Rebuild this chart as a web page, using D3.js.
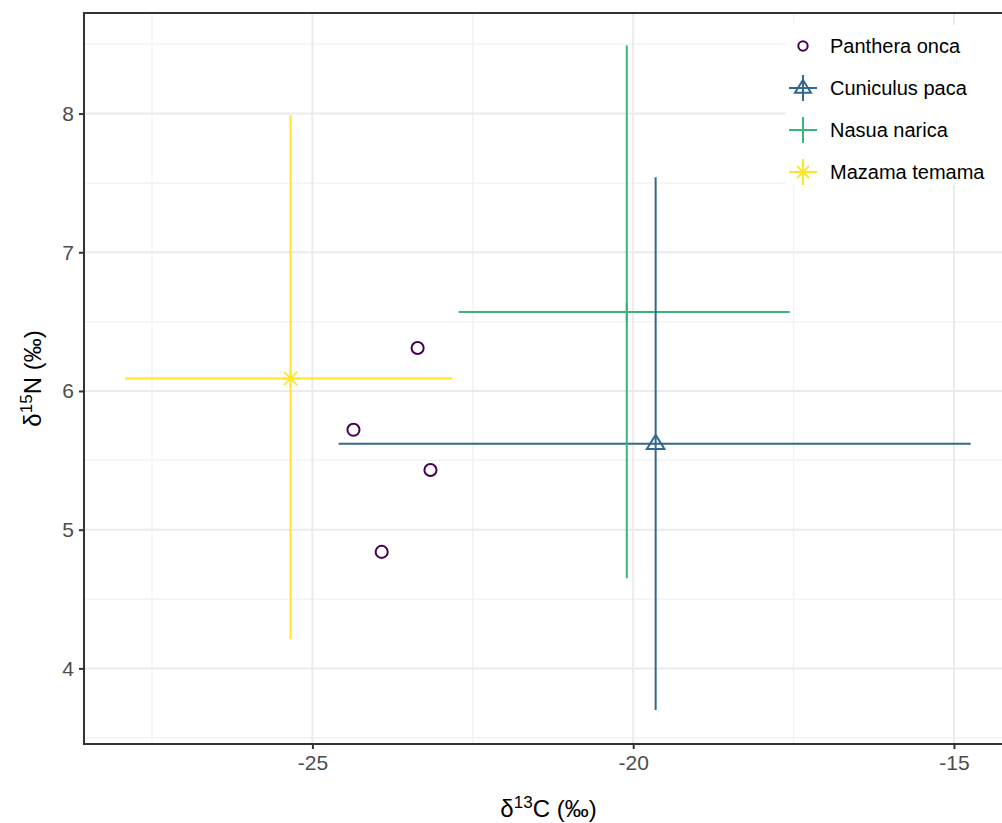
<!DOCTYPE html>
<html>
<head>
<meta charset="utf-8">
<script src="https://cdn.jsdelivr.net/npm/d3@7"></script>
<style>
  body { margin: 0; background: #fff; }
  svg { display: block; font-family: "Liberation Sans", Arial, sans-serif; }
</style>
</head>
<body>
<svg width="1002" height="823"></svg>
<script>
// Data
const species = ["Panthera onca", "Cuniculus paca", "Nasua narica", "Mazama temama"];
const colors = ["#440154", "#31688E", "#35B779", "#FDE725"];

// individual jaguar samples
const pantheraC = [-23.36, -24.36, -23.16, -23.92];
const pantheraN = [6.31, 5.72, 5.43, 4.84];

// prey: mean and range
const preyNames = ["Cuniculus paca", "Nasua narica", "Mazama temama"];
const preyC = [-19.65, -20.10, -25.34];
const preyN = [5.62, 6.57, 6.09];
const preyCmin = [-24.59, -22.72, -27.92];
const preyCmax = [-14.74, -17.56, -22.82];
const preyNmin = [3.70, 4.65, 4.21];
const preyNmax = [7.54, 8.49, 7.99];

const xTicks = [-25, -20, -15];
const yTicks = [4, 5, 6, 7, 8];
const xMinor = [-27.5, -22.5, -17.5];
const yMinor = [3.5, 4.5, 5.5, 6.5, 7.5, 8.5];

const svg = d3.select("svg");
const panel = { left: 84, right: 1013, top: 13, bottom: 744 };

const x = d3.scaleLinear().domain([-28.56, -14.08]).range([panel.left, panel.right]);
const y = d3.scaleLinear().domain([3.455, 8.725]).range([panel.bottom, panel.top]);
const color = d3.scaleOrdinal().domain(species).range(colors);

// grid
const grid = svg.append("g");
grid.selectAll(".vminor").data(xMinor).enter().append("line")
  .attr("x1", d => x(d)).attr("x2", d => x(d))
  .attr("y1", panel.top).attr("y2", panel.bottom)
  .attr("stroke", "#F3F3F3").attr("stroke-width", 1.5);
grid.selectAll(".hminor").data(yMinor).enter().append("line")
  .attr("y1", d => y(d)).attr("y2", d => y(d))
  .attr("x1", panel.left).attr("x2", panel.right)
  .attr("stroke", "#F3F3F3").attr("stroke-width", 1.5);
grid.selectAll(".vmajor").data(xTicks).enter().append("line")
  .attr("x1", d => x(d)).attr("x2", d => x(d))
  .attr("y1", panel.top).attr("y2", panel.bottom)
  .attr("stroke", "#EBEBEB").attr("stroke-width", 2);
grid.selectAll(".hmajor").data(yTicks).enter().append("line")
  .attr("y1", d => y(d)).attr("y2", d => y(d))
  .attr("x1", panel.left).attr("x2", panel.right)
  .attr("stroke", "#EBEBEB").attr("stroke-width", 2);

// prey error bars
const prey = preyNames.map((name, i) => ({
  name, c: preyC[i], n: preyN[i],
  cmin: preyCmin[i], cmax: preyCmax[i], nmin: preyNmin[i], nmax: preyNmax[i]
}));

const bars = svg.append("g");
bars.selectAll(".hbar").data(prey).enter().append("line")
  .attr("x1", d => x(d.cmin)).attr("x2", d => x(d.cmax))
  .attr("y1", d => y(d.n)).attr("y2", d => y(d.n))
  .attr("stroke", d => color(d.name)).attr("stroke-width", 2);
bars.selectAll(".vbar").data(prey).enter().append("line")
  .attr("x1", d => x(d.c)).attr("x2", d => x(d.c))
  .attr("y1", d => y(d.nmin)).attr("y2", d => y(d.nmax))
  .attr("stroke", d => color(d.name)).attr("stroke-width", 2);

// shapes
function drawShape(g, name, cx, cy, s) {
  const col = color(name);
  if (name === "Panthera onca") {
    g.append("circle").attr("cx", cx).attr("cy", cy).attr("r", s * 0.55)
      .attr("fill", "none").attr("stroke", col).attr("stroke-width", 2);
  } else if (name === "Cuniculus paca") {
    const r = s * 0.8;
    g.append("path")
      .attr("d", `M${cx},${cy - r}L${cx + r},${cy + r * 0.6}L${cx - r},${cy + r * 0.6}Z`)
      .attr("fill", "none").attr("stroke", col).attr("stroke-width", 2);
  } else if (name === "Nasua narica") {
    const r = s * 0.8;
    g.append("path").attr("d", `M${cx - r},${cy}H${cx + r}M${cx},${cy - r}V${cy + r}`)
      .attr("stroke", col).attr("stroke-width", 2);
  } else {
    const r = s * 0.8, q = r * 0.75;
    g.append("path")
      .attr("d", `M${cx - r},${cy}H${cx + r}M${cx},${cy - r}V${cy + r}` +
        `M${cx - q},${cy - q}L${cx + q},${cy + q}M${cx - q},${cy + q}L${cx + q},${cy - q}`)
      .attr("stroke", col).attr("stroke-width", 1.8);
  }
}

const marks = svg.append("g");
pantheraC.forEach((c, i) => drawShape(marks, "Panthera onca", x(c), y(pantheraN[i]), 11));
prey.forEach(d => drawShape(marks, d.name, x(d.c), y(d.n), 11));

// panel border
svg.append("rect")
  .attr("x", panel.left).attr("y", panel.top)
  .attr("width", panel.right - panel.left).attr("height", panel.bottom - panel.top)
  .attr("fill", "none").attr("stroke", "#333333").attr("stroke-width", 2);

// axes
const fmt = d => String(d);
const xAxis = svg.append("g").attr("transform", `translate(0,${panel.bottom})`)
  .call(d3.axisBottom(x).tickValues(xTicks).tickFormat(fmt).tickSize(5).tickPadding(6));
const yAxis = svg.append("g").attr("transform", `translate(${panel.left},0)`)
  .call(d3.axisLeft(y).tickValues(yTicks).tickFormat(fmt).tickSize(5).tickPadding(5));
[xAxis, yAxis].forEach(a => {
  a.select(".domain").remove();
  a.selectAll(".tick line").attr("stroke", "#333333").attr("stroke-width", 2);
  a.selectAll(".tick text").attr("fill", "#4D4D4D")
    .style("font-size", "21px").style("font-family", "Liberation Sans, Arial, sans-serif");
});

// axis titles
const xt = svg.append("text")
  .attr("x", (panel.left + panel.right) / 2).attr("y", 817)
  .attr("text-anchor", "middle").style("font-size", "24px").attr("fill", "#000");
xt.append("tspan").text("δ");
xt.append("tspan").attr("dy", -9).style("font-size", "17px").text("13");
xt.append("tspan").attr("dy", 9).text("C (‰)");

const yt = svg.append("text")
  .attr("transform", `translate(41,${(panel.top + panel.bottom) / 2}) rotate(-90)`)
  .attr("text-anchor", "middle").style("font-size", "24px").attr("fill", "#000");
yt.append("tspan").text("δ");
yt.append("tspan").attr("dy", -9).style("font-size", "17px").text("15");
yt.append("tspan").attr("dy", 9).text("N (‰)");

// legend
const legend = svg.append("g");
legend.append("rect").attr("x", 786).attr("y", 25).attr("width", 230).attr("height", 160)
  .attr("fill", "#fff");
species.forEach((name, i) => {
  const cy = 46 + i * 42;
  const g = legend.append("g");
  if (name !== "Panthera onca") {
    g.append("path").attr("d", `M789,${cy}H817M803,${cy - 13}V${cy + 13}`)
      .attr("stroke", color(name)).attr("stroke-width", 2);
  }
  drawShape(g, name, 803, cy, name === "Panthera onca" ? 8.5 : 10);
  g.append("text").attr("x", 830).attr("y", cy + 7).text(name)
    .style("font-size", "20px").attr("fill", "#000");
});
</script>
</body>
</html>
